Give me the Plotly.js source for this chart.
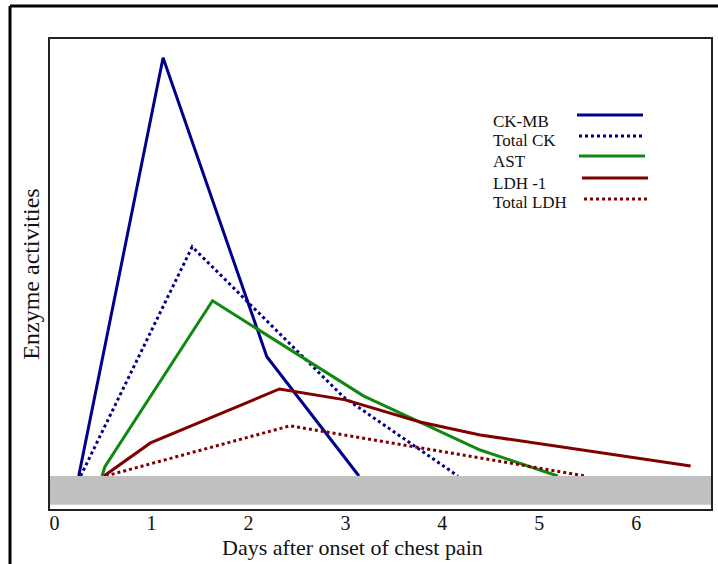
<!DOCTYPE html>
<html>
<head>
<meta charset="utf-8">
<script src="https://cdn.plot.ly/plotly-3.0.1.min.js"></script>
<style>html,body{margin:0;padding:0;background:#fff;}#chart{width:718px;height:564px;}</style>
</head>
<body>
<div id="chart"></div>
<script>
// Data (days after onset, relative enzyme activity)
var seriesNames = ["CK-MB", "Total CK", "AST", "LDH -1", "Total LDH"];
var ckmbDays = [0.25, 1.12, 2.19, 3.14];
var ckmbVals = [0, 100, 28.5, 0];
var totalCkDays = [0.27, 1.42, 2.98, 4.16];
var totalCkVals = [0, 54.8, 18.9, 0];
var astDays = [0.49, 0.52, 1.63, 3.19, 4.39, 5.19];
var astVals = [0, 2.2, 41.9, 19.1, 6.2, 0];
var ldh1Days = [0.51, 0.99, 2.32, 3.0, 3.77, 4.39, 6.56];
var ldh1Vals = [0, 7.9, 20.8, 18.2, 12.9, 9.8, 2.4];
var totalLdhDays = [0.53, 2.43, 4.39, 5.47];
var totalLdhVals = [0, 12.0, 4.3, 0];
var xTickVals = [0, 1, 2, 3, 4, 5, 6];
var xTickText = ["0", "1", "2", "3", "4", "5", "6"];
var xTitle = "Days after onset of chest pain";
var yTitle = "Enzyme activities";

var blue = "#00008b", green = "#118811", red = "#800000";
var styles = [
  {color: blue, dash: "solid"},
  {color: blue, dash: "dot"},
  {color: green, dash: "solid"},
  {color: red, dash: "solid"},
  {color: red, dash: "dot"}
];
var xs = [ckmbDays, totalCkDays, astDays, ldh1Days, totalLdhDays];
var ys = [ckmbVals, totalCkVals, astVals, ldh1Vals, totalLdhVals];

var traces = seriesNames.map(function(n, i) {
  return {x: xs[i], y: ys[i], name: n, type: "scatter", mode: "lines",
    line: {color: styles[i].color, width: 3, dash: styles[i].dash}, showlegend: false};
});

// Manual legend (text left, line sample right)
var legTextY = [0.8255, 0.7830, 0.7383, 0.6936, 0.6511];
var legLineY = [0.8383, 0.7936, 0.7511, 0.7043, 0.6596];
var legLineX0 = [0.7973, 0.8003, 0.8003, 0.8048, 0.8079];
var legLineX1 = [0.8971, 0.8971, 0.9002, 0.9047, 0.9047];

var annotations = seriesNames.map(function(n, i) {
  return {text: n, xref: "paper", yref: "paper", x: 0.6672, y: legTextY[i],
    xanchor: "left", yanchor: "middle", showarrow: false,
    font: {family: "Liberation Serif", size: 17, color: "#111"}};
});
annotations.push({text: xTitle, xref: "paper", yref: "paper", x: 0.458, y: -0.0809,
  xanchor: "center", yanchor: "middle", showarrow: false,
  font: {family: "Liberation Serif", size: 22, color: "#111"}});

var shapes = [
  // grey baseline band
  {type: "rect", xref: "paper", yref: "y", x0: 0, x1: 1, y0: -6.9, y1: 0,
   fillcolor: "#c0c0c0", line: {width: 0}, layer: "above"},
  // outer frame
  {type: "line", xref: "paper", yref: "paper", x0: -0.0605, x1: 1.02, y0: 1.070, y1: 1.070,
   line: {color: "#000", width: 3}},
  {type: "line", xref: "paper", yref: "paper", x0: -0.0605, x1: -0.0605, y0: 1.070, y1: -0.2,
   line: {color: "#000", width: 3}}
];
seriesNames.forEach(function(n, i) {
  shapes.push({type: "line", xref: "paper", yref: "paper", x0: legLineX0[i], x1: legLineX1[i],
    y0: legLineY[i], y1: legLineY[i], line: {color: styles[i].color, width: 3, dash: styles[i].dash}});
});

var layout = {
  width: 718, height: 564,
  margin: {l: 50, r: 7, t: 39, b: 55},
  paper_bgcolor: "#fff", plot_bgcolor: "#fff",
  font: {family: "Liberation Serif", color: "#111"},
  showlegend: false,
  xaxis: {range: [-0.046, 6.77], tickvals: xTickVals, ticktext: xTickText, ticks: "",
    ticklabelstandoff: -5,
    showgrid: false, zeroline: false, showline: true, mirror: true, linecolor: "#222", linewidth: 2,
    tickfont: {family: "Liberation Serif", size: 20, color: "#111"}},
  yaxis: {range: [-7.9, 104.5], showticklabels: false, ticks: "", showgrid: false, zeroline: false,
    showline: true, mirror: true, linecolor: "#222", linewidth: 2,
    title: {text: yTitle, font: {family: "Liberation Serif", size: 24, color: "#111"}, standoff: 2}},
  annotations: annotations,
  shapes: shapes
};

Plotly.newPlot("chart", traces, layout, {displayModeBar: false, staticPlot: true});
</script>
</body>
</html>
